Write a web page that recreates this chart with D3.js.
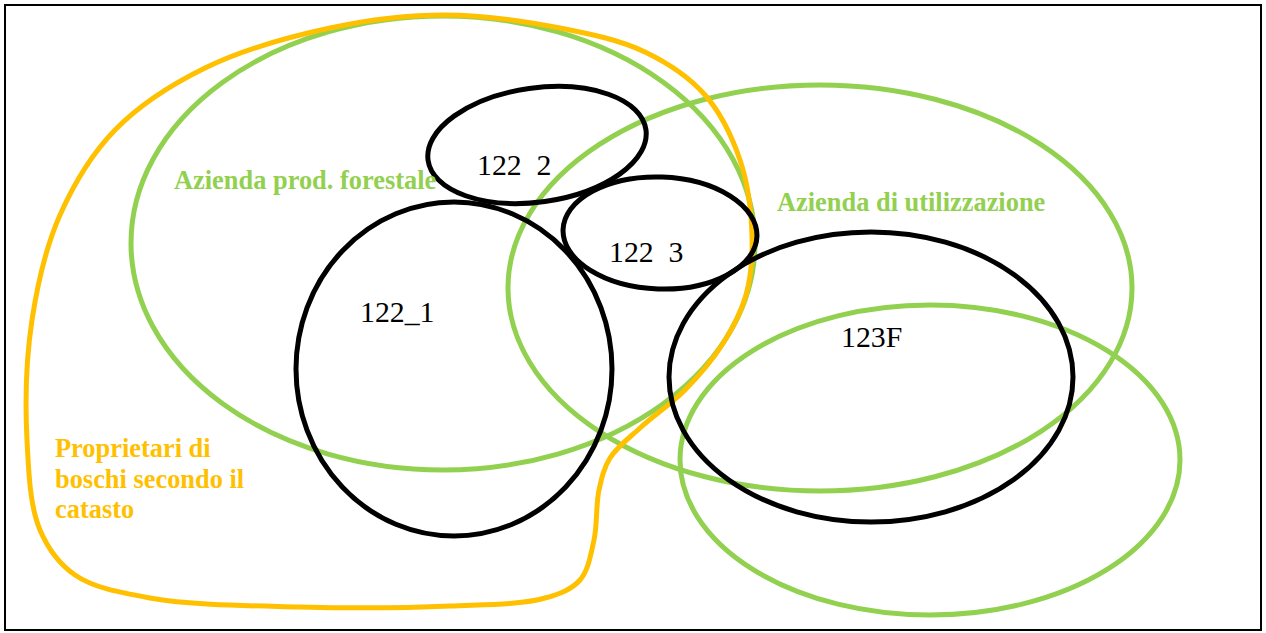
<!DOCTYPE html>
<html><head><meta charset="utf-8">
<script src="https://cdn.jsdelivr.net/npm/d3@7"></script>
<style>body{margin:0;background:#fff}svg{display:block}</style>
</head><body>
<svg id="c" width="1266" height="633"></svg>
<script>
// Sets: name, centre x, centre y, radius x, radius y, tilt (deg) in diagram units
const setNames = ["Azienda prod. forestale","Azienda di utilizzazione","Green extra","122_2","122_3","122_1","123F"];
const setCx = [443, 820, 930, 537, 660, 454, 871];
const setCy = [243, 288, 460, 145, 233, 369, 377];
const setRx = [312, 312, 250, 110, 97, 158, 202];
const setRy = [227, 203, 155, 57, 56, 167, 145];
const setTilt = [0, 0, 0, -8, 2, 0, 0];
const setKind = ["green","green","green","black","black","black","black"];
// Outline of "Proprietari di boschi secondo il catasto"
const blobX = [445, 560, 645, 705, 740, 752, 746, 722, 685, 640, 610, 599, 594, 580, 545, 450, 300, 150, 75, 40, 27, 32, 60, 115, 205, 330];
const blobY = [15, 28, 52, 95, 160, 235, 295, 345, 390, 428, 458, 490, 540, 580, 598, 606, 607, 598, 575, 530, 440, 320, 215, 130, 68, 28];
// Labels
const labelText = ["Azienda prod. forestale","Azienda di utilizzazione","Proprietari di","boschi secondo il","catasto","122  2","122  3","122_1","123F"];
const labelX = [174, 777, 55, 55, 55, 477, 609, 360, 841];
const labelY = [189, 211, 457, 488, 518, 175, 262, 322, 347];
const labelKind = ["green","green","yellow","yellow","yellow","black","black","black","black"];

const W = 1266, H = 633;
const x = d3.scaleLinear().domain([0, 1266]).range([0, W]);
const y = d3.scaleLinear().domain([0, 633]).range([0, H]);
const colors = {green:"#92D050", yellow:"#FFC000", black:"#000"};
const svg = d3.select("#c");

svg.append("rect").attr("x", x(5)).attr("y", y(5)).attr("width", x(1261)-x(5)).attr("height", y(630)-y(5))
  .attr("fill","none").attr("stroke","#000").attr("stroke-width",2);

const sets = setNames.map((n,i)=>({n, cx:setCx[i], cy:setCy[i], rx:setRx[i], ry:setRy[i], t:setTilt[i], k:setKind[i]}));

function drawEllipses(cls, data, color){
  svg.selectAll("ellipse."+cls).data(data).join("ellipse").attr("class",cls)
    .attr("cx",0).attr("cy",0).attr("rx",d=>x(d.rx)-x(0)).attr("ry",d=>y(d.ry)-y(0))
    .attr("transform",d=>`translate(${x(d.cx)},${y(d.cy)}) rotate(${d.t})`)
    .attr("fill","none").attr("stroke",color).attr("stroke-width",5);
}
drawEllipses("g", sets.filter(d=>d.k==="green"), colors.green);

const pts = blobX.map((v,i)=>[x(v), y(blobY[i])]);
svg.append("path").attr("d", d3.line().curve(d3.curveCatmullRomClosed.alpha(0.5))(pts))
  .attr("fill","none").attr("stroke",colors.yellow).attr("stroke-width",5);

drawEllipses("b", sets.filter(d=>d.k==="black"), colors.black);

const labels = labelText.map((t,i)=>({t, x:labelX[i], y:labelY[i], k:labelKind[i]}));
svg.selectAll("text.l").data(labels).join("text").attr("class","l")
  .attr("x",d=>x(d.x)).attr("y",d=>y(d.y))
  .attr("fill",d=>colors[d.k])
  .style("font-family","Liberation Serif, Times New Roman, serif")
  .style("font-weight",d=>d.k==="black"?"normal":"bold")
  .style("font-size",d=>d.k==="black"?"29.8px":"26.4px")
  .style("white-space","pre")
  .text(d=>d.t);
</script>
</body></html>
